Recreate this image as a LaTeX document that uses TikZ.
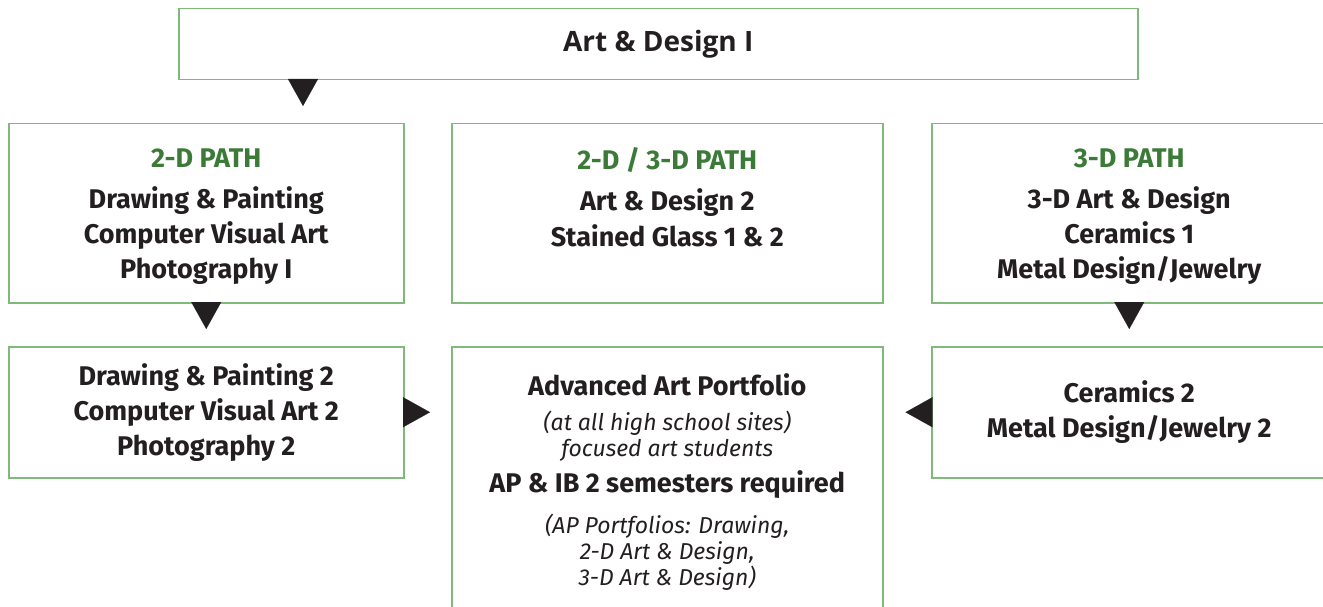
\documentclass[tikz,border=0pt]{standalone}
\usepackage{fontspec}
\setmainfont{Fira Sans}
\newfontfamily\headfont{Open Sans}
\usepackage{xcolor}
\usetikzlibrary{arrows.meta}

\definecolor{boxgreen}{HTML}{7FBA7A}
\definecolor{pathgreen}{HTML}{3B7A37}
\definecolor{inkblack}{HTML}{231F20}

\newcommand{\pathname}[2][26pt]{\rule{0pt}{#1}\textcolor{pathgreen}{#2}}
\newcommand{\note}{\mdseries\itshape\fontsize{23}{26}\selectfont}

\tikzset{
	course/.style={draw=boxgreen, line width=1.5pt, anchor=north west, inner sep=0pt,
		align=flush center, text=inkblack, font=\bfseries\fontsize{27}{35}\selectfont},
	tri/.style={-{Triangle[width=30pt,length=27pt]}, inkblack, line width=0.1pt},
}

\begin{document}
\begin{tikzpicture}[x=1pt,y=-1pt]

\useasboundingbox (0,0) rectangle (1323,607);
\clip (0,0) rectangle (1323,607);

\node[course, font=\headfont\bfseries\fontsize{28}{35}\selectfont, text width=959pt, minimum height=71pt] (top) at (178,8) {Art \& Design I};

\node[course, text width=395pt, minimum height=179pt] (p2d) at (8,123)
	{\pathname{2-D PATH}\\[6pt] Drawing \& Painting\\ Computer Visual Art\\ Photography I};
\node[course, text width=431pt, minimum height=179pt] (pmix) at (451,123)
	{\pathname[31pt]{2-D / 3-D PATH}\\[6pt] Art \& Design 2\\[1pt] Stained Glass 1 \& 2\\ \vphantom{Py}};
\node[course, text width=395pt, minimum height=179pt] (p3d) at (931,123)
	{\pathname{3-D PATH}\\[6pt] 3-D Art \& Design\\ Ceramics 1\\ Metal Design/Jewelry};

\node[course, text width=395pt, minimum height=131pt] (d2) at (8,346)
	{Drawing \& Painting 2\\ Computer Visual Art 2\\ Photography 2};
\node[course, text width=431pt, minimum height=270pt] (port) at (451,346)
	{Advanced Art Portfolio\par\vspace{9pt}
	{\note (at all high school sites)\\ focused art students\par}\vspace{1pt}
	AP \& IB 2 semesters required\par\vspace{15pt}
	{\note (AP Portfolios: Drawing,\\ 2-D Art \& Design,\\ 3-D Art \& Design)\par}};
\node[course, text width=395pt, minimum height=131pt] (d3) at (931,346)
	{Ceramics 2\\ Metal Design/Jewelry 2};

\coordinate (drop) at (303,0);

\draw[tri, shorten >=17pt] (top.south -| drop) -- (p2d.north -| drop);
\draw[tri, shorten >=17pt] (p2d.south) -- (d2.north);
\draw[tri, shorten >=17pt] (p3d.south) -- (d3.north);
\draw[tri, shorten >=21pt] (d2.east) -- (d2.east -| port.west);
\draw[tri, shorten >=22pt] (d3.west) -- (d3.west -| port.east);

\end{tikzpicture}
\end{document}
